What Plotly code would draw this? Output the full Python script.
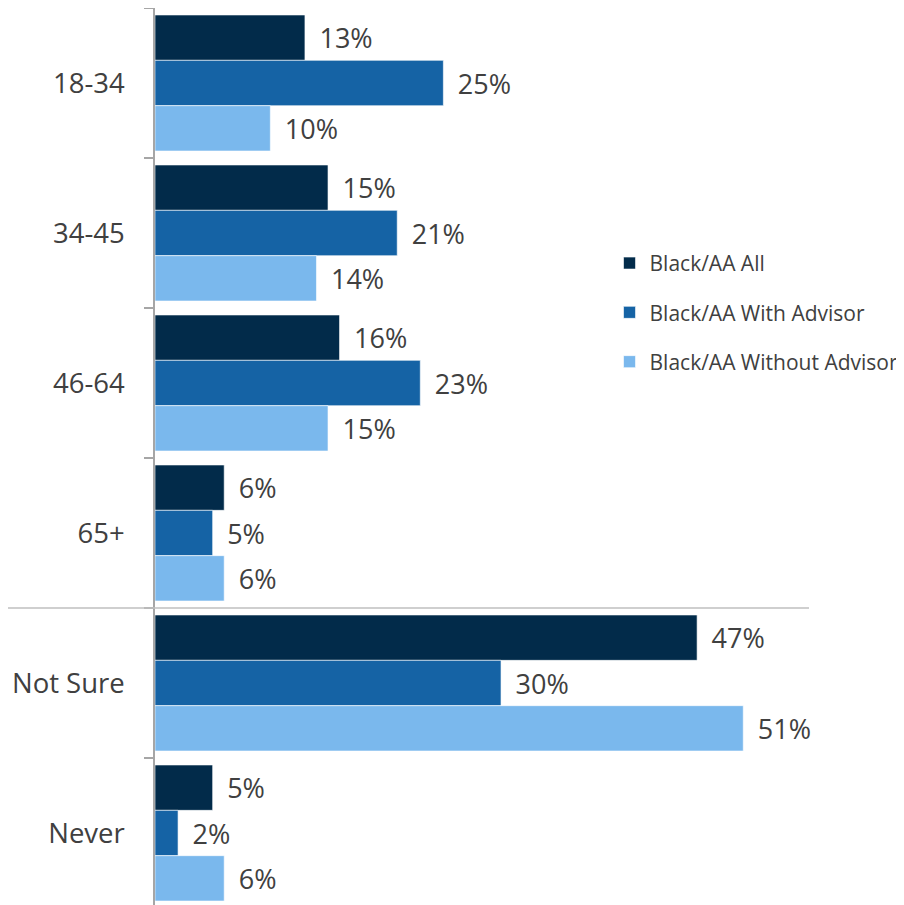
import plotly.graph_objects as go

categories = ["18-34", "34-45", "46-64", "65+", "Not Sure", "Never"]
series_names = ["Black/AA All", "Black/AA With Advisor", "Black/AA Without Advisor"]
all_vals = [13, 15, 16, 6, 47, 5]
with_advisor = [25, 21, 23, 5, 30, 2]
without_advisor = [10, 14, 15, 6, 51, 6]
colors = ["#022B4A", "#1563A5", "#7AB8ED"]

FONT = "Open Sans"
TXT = "#404040"

fig = go.Figure()
for i, (name, vals) in enumerate(zip(series_names, [all_vals, with_advisor, without_advisor])):
    fig.add_trace(go.Bar(
        y=categories, x=vals, orientation="h", name=name,
        marker=dict(color=colors[i], line=dict(color="white", width=0.6)),
        text=[f"\u00a0\u2009{v}%" for v in vals],
        textposition="outside",
        textfont=dict(family=FONT, size=27, color=TXT),
        cliponaxis=False,
        legendgroup=f"g{i}",
        hoverinfo="skip",
    ))

fig.update_layout(
    width=904, height=905,
    margin=dict(l=147, r=103, t=0, b=5, autoexpand=False),
    paper_bgcolor="white", plot_bgcolor="white",
    barmode="group", bargap=0.093, bargroupgap=0,
    font=dict(family=FONT, color=TXT),
    showlegend=True,
    legend=dict(
        x=0.695, y=0.739, xanchor="left", yanchor="top",
        font=dict(family=FONT, size=21, color=TXT),
        tracegroupgap=19, bgcolor="rgba(0,0,0,0)",
        itemwidth=30, itemclick=False,
    ),
    xaxis=dict(range=[0, 56.7], visible=False, showgrid=False, zeroline=False, automargin=False),
    yaxis=dict(
        type="category", autorange="reversed", automargin=False,
        showline=True, linecolor="#A6A6A6", linewidth=1.5,
        ticks="outside", ticklen=9, tickcolor="#A6A6A6", tickwidth=1.5,
        tickson="boundaries", showgrid=False,
        tickfont=dict(family=FONT, size=27.5, color=TXT),
        ticklabelstandoff=23,
    ),
    shapes=[dict(
        type="line", xref="paper", yref="y",
        x0=-155 / 654, x1=1.0, y0=3.5, y1=3.5,
        line=dict(color="#BFBFBF", width=1.5),
    )],
)

fig.write_html("out.html")
